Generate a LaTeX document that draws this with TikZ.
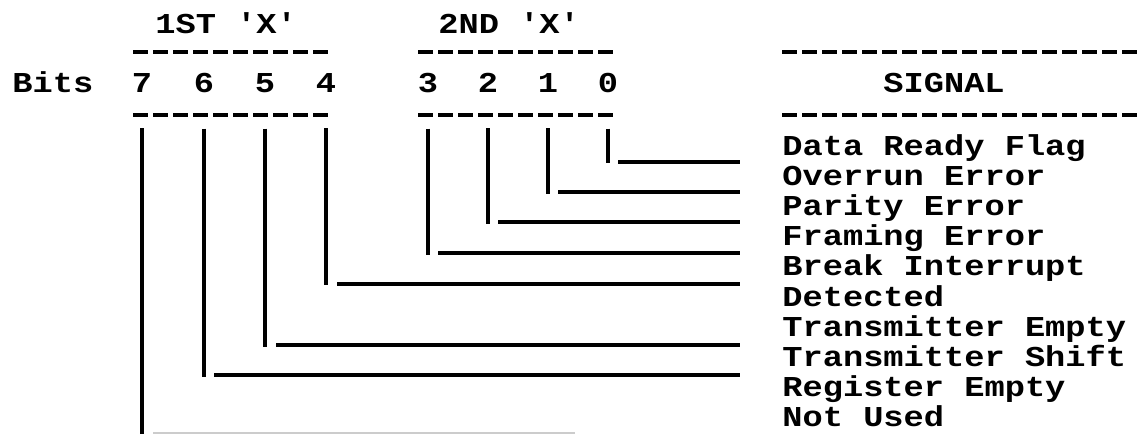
\documentclass[tikz,border=0pt]{standalone}
\usepackage{fontspec}
\setmonofont{Liberation Mono}[FakeStretch=1.17]
\usetikzlibrary{positioning}

\begin{document}
\begin{tikzpicture}[
  x=0.5pt, y=-0.5pt,
  font=\ttfamily\bfseries\fontsize{14.4}{18}\selectfont,
  lbl/.style={anchor=base west, inner sep=0pt},
  bit/.style={anchor=base, inner sep=0pt},
  rule/.style={line width=2pt, dash pattern=on 7.5pt off 2.5pt},
  wire/.style={line width=1.6pt}
]
\useasboundingbox (0,0) rectangle (1142,434);

\node[lbl] (first) at (155,33) {1ST 'X'};
\node[lbl] (second) at (438,33) {2ND 'X'};
\node[lbl] (bits) at (12,92) {Bits};
\node[lbl] (signal) at (883,92) {SIGNAL};

\foreach \b/\x in {7/142,6/204,5/265,4/326,3/428,2/488,1/548,0/608}
  \node[bit] (b\b) at (\x,92) {\b};

\foreach \i/\t in {0/Data Ready Flag,1/Overrun Error,2/Parity Error,3/Framing Error,4/Break Interrupt,5/Detected,6/Transmitter Empty,7/Transmitter Shift,8/Register Empty,9/Not Used}
  \node[lbl] (s\i) at (782,155+30.2*\i) {\t};

\foreach \y in {52,115} {
  \draw[rule] (133,\y) -- (333,\y);
  \draw[rule] (418,\y) -- (617,\y);
  \draw[rule] (782,\y) -- (1145,\y);
}

\foreach \b/\ye/\hx/\hy in {0/163/618/162,1/194/558/192,2/224/498/222,3/255/438/253,4/285/337/284,5/347/276/345,6/377/214/375} {
  \coordinate (bot\b) at (b\b |- 0,\ye);
  \coordinate (in\b) at (\hx,\hy);
  \coordinate (out\b) at (740,\hy);
  \draw[wire] ([yshift=-18pt]b\b.south) -- (bot\b);
  \draw[wire] (in\b) -- (out\b);
}
\coordinate (bot7) at (b7 |- 0,434);
\draw[wire] ([yshift=-18pt]b7.south) -- (bot7);
\draw[gray!40, line width=0.8pt] (153,433) -- (575,433);
\end{tikzpicture}
\end{document}
